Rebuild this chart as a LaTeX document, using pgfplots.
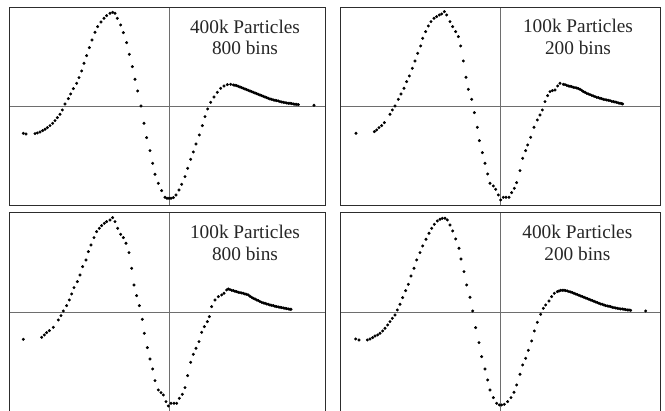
\documentclass[border=0pt]{standalone}
\usepackage{pgfplots}
\pgfplotsset{compat=1.18}
\usepackage{fontspec}
\setmainfont{Liberation Serif}
\definecolor{framec}{RGB}{45,45,45}
\definecolor{crossc}{RGB}{110,110,110}
\pgfplotsset{
  panel/.style={scale only axis, hide axis, clip=false,
    axis on top=false},
  dots/.style={only marks, mark=*, mark size=1.3pt, black, mark options={draw=black, fill=black}},
}
\tikzset{
  frame/.style={draw=framec, line width=0.9pt},
  cross/.style={draw=crossc, line width=0.8pt},
  lab/.style={anchor=base, font=\fontsize{19.3}{22}\selectfont, text=black!85},
}
\begin{document}
\begin{tikzpicture}
\useasboundingbox (0,0) rectangle (665pt,411pt);
% ---------------- top left: 400k / 800 bins
\begin{axis}[panel, at={(9pt,403.5pt)}, anchor=north west,
  width=316pt, height=197.5pt, xmin=-480, xmax=468, ymin=-295, ymax=297.5]
\draw[cross] (axis cs:-480,0) -- (axis cs:468,0);
\draw[cross] (axis cs:0,-295) -- (axis cs:0,297.5);
\draw[frame] (rel axis cs:0,0) rectangle (rel axis cs:1,1);
\addplot[dots] coordinates {
(-437,-80) (-429,-82) (-402,-81) (-395,-79) (-387,-76) (-379,-72) (-372,-68)
(-365,-63) (-357,-57) (-349,-50) (-342,-42) (-335,-33) (-327,-23) (-320,-10)
(-312,8) (-302,24) (-295,38) (-287,54) (-277,70) (-270,87) (-262,107)
(-255,130) (-247,153) (-239,177) (-231,200) (-222,223) (-214,240) (-204,254)
(-195,265) (-187,273) (-177,280) (-169,283) (-162,280) (-155,265) (-145,245)
(-137,222) (-127,192) (-119,157) (-110,120) (-102,82) (-94,47) (-84,2)
(-75,-50) (-67,-93) (-57,-132) (-49,-170) (-42,-203) (-32,-230) (-22,-252)
(-12,-272) (-6,-275) (0,-275) (6,-275) (13,-273) (21,-265) (30,-250)
(38,-233) (48,-210) (56,-185) (65,-158) (73,-136) (81,-112) (91,-85)
(100,-57) (108,-30) (116,-7) (125,13) (135,29) (145,43) (155,55)
(165,62) (175,66) (185,67) (193,65) (198,64) (203,63) (208,61) (213,59)
(218,57) (223,55) (228,53) (233,51) (238,49) (243,47) (248,45) (253,43)
(258,41) (263,39) (268,37) (273,35) (278,33) (283,31) (288,29) (293,27)
(298,25) (303,23) (308,22) (313,20) (318,19) (323,18) (328,17) (333,15)
(338,14) (343,13) (348,12) (353,11) (358,10) (363,10) (368,9) (373,8)
(378,7) (383,7) (388,6) (435,4)
};
\node[lab] at (axis cs:228,220) {400k Particles};
\node[lab] at (axis cs:228,155) {800 bins};
\end{axis}
% ---------------- top right: 100k / 200 bins
\begin{axis}[panel, at={(340pt,403.5pt)}, anchor=north west,
  width=320pt, height=197.5pt, xmin=-482, xmax=478, ymin=-295, ymax=297.5]
\draw[cross] (axis cs:-482,0) -- (axis cs:478,0);
\draw[cross] (axis cs:0,-295) -- (axis cs:0,297.5);
\draw[frame] (rel axis cs:0,0) rectangle (rel axis cs:1,1);
\addplot[dots] coordinates {
(-434,-80) (-379,-75) (-372,-70) (-365,-63) (-357,-57) (-349,-48) (-332,-23)
(-325,-10) (-317,2) (-307,22) (-299,38) (-290,55) (-282,75) (-274,92)
(-265,115) (-257,137) (-249,160) (-240,182) (-234,205) (-225,225) (-217,242)
(-209,255) (-200,265) (-192,270) (-184,275) (-177,278) (-169,285) (-162,275)
(-152,255) (-144,240) (-135,225) (-127,210) (-120,182) (-112,137) (-104,88)
(-97,52) (-87,22) (-79,-18) (-70,-62) (-64,-102) (-55,-138) (-47,-170)
(-39,-202) (-32,-230) (-22,-238) (-15,-248) (-7,-265) (0,-280) (8,-272)
(16,-272) (25,-272) (33,-258) (41,-245) (48,-228) (58,-192) (66,-155)
(75,-132) (81,-115) (90,-92) (100,-62) (110,-40) (118,-25) (125,-10)
(133,15) (141,33) (148,45) (155,48) (163,50) (171,62) (178,70)
(188,67) (193,66) (198,64) (203,62) (208,61) (213,60) (218,58) (223,57)
(228,56) (233,54) (238,52) (243,49) (248,45) (253,43) (258,40) (263,38)
(268,36) (273,34) (278,32) (283,30) (288,28) (293,27) (298,25) (303,24)
(308,22) (313,21) (318,20) (323,19) (328,18) (333,16) (338,15) (343,14)
(348,13) (353,11) (358,10) (363,9) (366,8)
};
\node[lab] at (axis cs:232,222) {100k Particles};
\node[lab] at (axis cs:232,155) {200 bins};
\end{axis}
% ---------------- bottom left: 100k / 800 bins
\begin{axis}[panel, at={(9pt,198.7pt)}, anchor=north west,
  width=316pt, height=198.7pt, xmin=-480, xmax=468, ymin=-296, ymax=300]
\draw[cross] (axis cs:-480,0) -- (axis cs:468,0);
\draw[cross] (axis cs:0,-296) -- (axis cs:0,300);
\draw[frame] (rel axis cs:0,-0.01) -- (rel axis cs:0,1) -- (rel axis cs:1,1) -- (rel axis cs:1,-0.01);
\addplot[dots] coordinates {
(-437,-81) (-382,-75) (-374,-68) (-367,-61) (-359,-55) (-347,-45) (-332,-23)
(-324,-10) (-317,4) (-307,20) (-299,37) (-292,55) (-285,74) (-275,92)
(-267,112) (-259,137) (-249,157) (-242,182) (-234,202) (-225,224) (-217,242)
(-209,252) (-202,260) (-194,267) (-187,272) (-177,277) (-169,284) (-162,272)
(-154,252) (-145,234) (-137,224) (-129,207) (-120,179) (-112,132) (-105,82)
(-97,50) (-89,20) (-80,-21) (-74,-63) (-65,-106) (-57,-140) (-49,-170)
(-42,-205) (-32,-233) (-24,-241) (-17,-248) (-9,-268) (-2,-281) (6,-273)
(15,-273) (23,-273) (31,-258) (40,-246) (48,-226) (56,-190) (65,-150)
(73,-126) (81,-108) (90,-88) (98,-60) (106,-43) (115,-28) (121,-13)
(128,17) (138,37) (148,47) (158,52) (165,57) (173,67) (178,70)
(183,68) (188,66) (193,65) (198,63) (203,62) (208,60) (213,59) (218,58)
(223,57) (228,55) (233,54) (238,52) (243,48) (248,45) (253,42) (258,40)
(263,37) (268,35) (273,32) (278,30) (283,28) (288,27) (293,25) (298,24)
(303,22) (308,21) (313,20) (318,18) (323,17) (328,16) (333,15) (338,14)
(343,13) (348,12) (353,11) (358,10) (363,9) (366,9)
};
\node[lab] at (axis cs:228,220) {100k Particles};
\node[lab] at (axis cs:228,154) {800 bins};
\end{axis}
% ---------------- bottom right: 400k / 200 bins
\begin{axis}[panel, at={(340pt,198.7pt)}, anchor=north west,
  width=320pt, height=198.7pt, xmin=-482, xmax=478, ymin=-296, ymax=300]
\draw[cross] (axis cs:-482,0) -- (axis cs:478,0);
\draw[cross] (axis cs:0,-296) -- (axis cs:0,300);
\draw[frame] (rel axis cs:0,-0.01) -- (rel axis cs:0,1) -- (rel axis cs:1,1) -- (rel axis cs:1,-0.01);
\addplot[dots] coordinates {
(-435,-80) (-425,-83) (-400,-83) (-392,-80) (-384,-76) (-377,-71) (-369,-68)
(-362,-63) (-354,-56) (-347,-48) (-339,-38) (-332,-28) (-325,-18) (-317,-8)
(-310,7) (-302,24) (-294,44) (-285,65) (-277,84) (-269,109) (-260,132)
(-252,157) (-242,179) (-234,199) (-224,219) (-215,237) (-207,252) (-199,264)
(-190,274) (-182,279) (-175,282) (-167,282) (-160,277) (-152,262) (-144,244)
(-135,220) (-125,192) (-119,160) (-110,122) (-102,82) (-92,45) (-84,4)
(-75,-46) (-65,-91) (-57,-133) (-47,-170) (-39,-203) (-32,-233) (-22,-256)
(-12,-273) (-4,-278) (3,-278) (11,-276) (21,-268) (31,-256) (40,-240)
(48,-218) (58,-186) (66,-158) (75,-138) (83,-114) (93,-86) (101,-56)
(110,-30) (120,-6) (128,12) (135,22) (145,34) (153,47) (161,57)
(170,62) (175,64) (180,66) (185,66) (190,66) (195,65) (200,64) (205,62)
(210,61) (215,59) (220,57) (225,55) (230,53) (235,51) (240,49) (245,47)
(250,45) (255,43) (260,41) (265,39) (270,37) (275,35) (280,33) (285,31)
(290,29) (295,27) (300,25) (305,24) (310,22) (315,20) (320,19) (325,18)
(330,17) (335,15) (340,14) (345,13) (350,12) (355,11) (360,10) (365,10)
(370,9) (375,8) (380,7) (385,7) (390,6) (435,4)
};
\node[lab] at (axis cs:230,222) {400k Particles};
\node[lab] at (axis cs:230,154) {200 bins};
\end{axis}
\end{tikzpicture}
\end{document}
